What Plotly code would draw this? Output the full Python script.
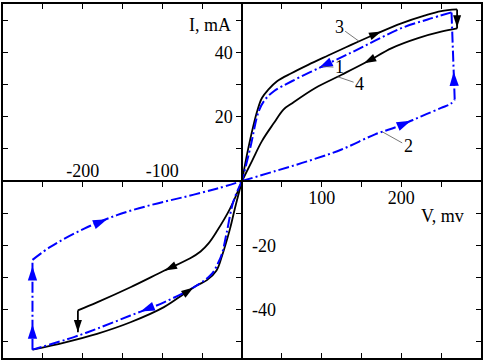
import math
import plotly.graph_objects as go

# ---------------- data ----------------
# Black solid loop (V in mV, I in mA)
BLK_LOWER_V = [-263, -223, -182, -140, -98, -73, -57, -44, -32, -25, -15, -9, 0]
BLK_LOWER_I = [-52.4, -50.2, -47.5, -43.9, -39.2, -35.1, -32.5, -30.8, -27.8, -23.2, -14.8, -8.6, 0]
BLK_3_V = [0, 8, 19, 25, 33, 44, 62, 83, 108, 137, 167, 200, 229, 250, 270]
BLK_3_I = [0, 10.3, 21.7, 25.8, 28.4, 31.0, 33.5, 36.1, 39.0, 42.3, 45.6, 49.0, 51.4, 52.8, 53.3]
BLK_4_V = [270, 250, 221, 188, 158, 125, 92, 62, 52, 40, 25, 12.5, 0]
BLK_4_I = [47.4, 46.4, 44.4, 41.3, 37.2, 33.0, 28.9, 24.0, 22.2, 18.0, 12.4, 6.2, 0]
BLK_INNER_V = [0, -15, -32, -42, -52, -65, -98, -140, -182, -206]
BLK_INNER_I = [0, -8.6, -15.8, -19.4, -21.9, -24.0, -27.9, -33.0, -37.7, -40.2]
BLK_DROP_END_I = -47.0          # end of the short vertical drop at V = -206

# Blue dash-dot loop
BLU_2_V = [0, 42, 83, 125, 167, 196, 225, 250, 262, 267]
BLU_2_I = [0, 3.1, 6.2, 9.8, 14.5, 17.0, 20.1, 22.7, 24.0, 25.3]
BLU_1_V = [263, 233, 200, 167, 138, 104, 62.5, 40, 29, 21, 10.4, 0]
BLU_1_I = [52.4, 50.2, 47.5, 43.6, 40.0, 36.0, 31.0, 27.9, 25.3, 21.7, 10.3, 0]
BLU_LOWER_V = [0, -11, -19, -25, -30, -38, -57, -98, -140, -182, -211, -263]
BLU_LOWER_I = [0, -6.5, -15.8, -22.5, -25.5, -28.9, -32.5, -37.7, -41.8, -45.9, -48.5, -52.4]
BLU_UPPER_V = [-263, -240, -198, -157, -115, -73, -32, 0]
BLU_UPPER_I = [-24.5, -20.4, -14.8, -10.6, -7.5, -5.0, -2.4, 0]

# direction arrows: (curve, segment index, fraction along segment)
BLK_ARROWS = [("lower", 5, 0.76), ("3", 10, 0.24), ("3", 14, 0.95),
              ("4", 4, 0.15), ("inner", 5, 0.97), ("inner", 9, 1.0)]
BLU_ARROWS = [("2", 5, 0.55), ("2", 9, 0.32), ("1", 5, 0.19),
              ("lower", 7, 0.7), ("lower", 11, 0.28), ("lower", 11, 0.93),
              ("upper", 2, 0.7)]

X_RANGE = [-300, 300]
Y_RANGE = [-55, 55]
X_TICKS = [-250, -200, -150, -100, -50, 50, 100, 150, 200, 250]
X_LABELS_BELOW = {100: "100", 200: "200"}
X_LABELS_ABOVE = [-200, -100]
Y_TICKS = [-50, -40, -30, -20, -10, 10, 20, 30, 40, 50]
Y_LABELS_LEFT = {20: "20", 40: "40"}
Y_LABELS_RIGHT = [-20, -40]

# ---------------- layout geometry ----------------
W, H = 485, 362
MARG = dict(l=3, r=4, t=2, b=4)
SX = (W - MARG["l"] - MARG["r"]) / (X_RANGE[1] - X_RANGE[0])
SY = (H - MARG["t"] - MARG["b"]) / (Y_RANGE[1] - Y_RANGE[0])
FONT = "Liberation Serif"
BLUE = "#0000ff"


def build(parts):
    xs, ys, off = [], [], {}
    for name, vx, vy in parts:
        off[name] = len(xs)
        xs += list(vx)
        ys += list(vy)
    return xs, ys, off


def arrows(xs, ys, off, specs):
    px, py, ang = [], [], []
    for name, i, t in specs:
        k = off[name] + i
        x0, y0, x1, y1 = xs[k], ys[k], xs[k + 1], ys[k + 1]
        px.append(x0 + t * (x1 - x0))
        py.append(y0 + t * (y1 - y0))
        th = math.degrees(math.atan2((y1 - y0) * SY, (x1 - x0) * SX))
        ang.append(90 - th)
    return px, py, ang


blk_parts = [("lower", BLK_LOWER_V, BLK_LOWER_I), ("3", BLK_3_V, BLK_3_I),
             ("4", BLK_4_V, BLK_4_I),
             ("inner", BLK_INNER_V + [BLK_INNER_V[-1]], BLK_INNER_I + [BLK_DROP_END_I])]
blu_parts = [("2", BLU_2_V, BLU_2_I), ("1", BLU_1_V, BLU_1_I),
             ("lower", BLU_LOWER_V, BLU_LOWER_I), ("upper", BLU_UPPER_V, BLU_UPPER_I)]
bx, by, boff = build(blk_parts)
ux, uy, uoff = build(blu_parts)

fig = go.Figure()
blk_line = dict(color="black", width=1.8)
blu_line = dict(color=BLUE, width=2, dash="11px,3px,2px,3px")


def add_path(parts, line):
    # smooth curves, straight connectors between consecutive curves
    prev = None
    for name, vx, vy in parts:
        if prev is not None:
            fig.add_trace(go.Scatter(x=[prev[0], vx[0]], y=[prev[1], vy[0]], mode="lines",
                                     line=line, showlegend=False, hoverinfo="skip"))
        fig.add_trace(go.Scatter(x=list(vx), y=list(vy), mode="lines",
                                 line=dict(line, shape="spline", smoothing=1.0),
                                 showlegend=False, hoverinfo="skip"))
        prev = (vx[-1], vy[-1])


add_path([("lower", BLK_LOWER_V, BLK_LOWER_I), ("3", BLK_3_V, BLK_3_I),
          ("4", BLK_4_V, BLK_4_I), ("inner", BLK_INNER_V, BLK_INNER_I),
          ("drop", [BLK_INNER_V[-1]], [BLK_DROP_END_I])], blk_line)
add_path(blu_parts, blu_line)

ax_, ay_, aa_ = arrows(bx, by, boff, BLK_ARROWS)
fig.add_trace(go.Scatter(x=ax_, y=ay_, mode="markers", cliponaxis=False,
                         marker=dict(symbol="arrow", size=13, angle=aa_, color="black"),
                         showlegend=False, hoverinfo="skip"))
ax_, ay_, aa_ = arrows(ux, uy, uoff, BLU_ARROWS)
fig.add_trace(go.Scatter(x=ax_, y=ay_, mode="markers", cliponaxis=False,
                         marker=dict(symbol="arrow", size=15, angle=aa_, color=BLUE),
                         showlegend=False, hoverinfo="skip"))

# empty traces so the centre axes are created
fig.add_trace(go.Scatter(x=[], y=[], xaxis="x2", yaxis="y2", showlegend=False))
fig.add_trace(go.Scatter(x=[], y=[], xaxis="x3", yaxis="y3", showlegend=False))

tickfont = dict(family=FONT, size=18, color="black")
frame = dict(showline=True, linecolor="black", linewidth=1.5, mirror="ticks",
             ticks="inside", ticklen=5, tickwidth=1, tickcolor="black",
             showticklabels=False, showgrid=False, zeroline=False)

fig.update_layout(
    width=W, height=H, margin=dict(**MARG, pad=0),
    paper_bgcolor="white", plot_bgcolor="white",
    xaxis=dict(range=X_RANGE, tick0=0, dtick=50, **frame),
    yaxis=dict(range=Y_RANGE, tick0=0, dtick=10, **frame),
    xaxis2=dict(range=X_RANGE, overlaying="x", anchor="free", position=0.5, side="bottom",
                showline=True, linecolor="black", linewidth=1.5, showgrid=False, zeroline=False,
                ticks="outside", ticklen=5, tickwidth=1, tickcolor="black",
                tickvals=X_TICKS, ticktext=[X_LABELS_BELOW.get(v, "") for v in X_TICKS],
                ticklabelstandoff=-4, tickfont=tickfont),
    xaxis3=dict(range=X_RANGE, overlaying="x", anchor="free", position=0.5, side="top",
                showline=False, showgrid=False, zeroline=False, ticks="",
                tickvals=X_LABELS_ABOVE, ticktext=[str(v) for v in X_LABELS_ABOVE],
                tickfont=tickfont),
    yaxis2=dict(range=Y_RANGE, overlaying="y", anchor="free", position=0.5, side="left",
                showline=True, linecolor="black", linewidth=1.5, showgrid=False, zeroline=False,
                ticks="outside", ticklen=5, tickwidth=1, tickcolor="black",
                tickvals=Y_TICKS, ticktext=[Y_LABELS_LEFT.get(v, "") for v in Y_TICKS],
                tickfont=tickfont),
    yaxis3=dict(range=Y_RANGE, overlaying="y", anchor="free", position=0.5, side="right",
                showline=False, showgrid=False, zeroline=False, ticks="",
                tickvals=Y_LABELS_RIGHT, ticktext=[str(v) for v in Y_LABELS_RIGHT],
                ticklabelstandoff=9, tickfont=tickfont),
)

lab_font = dict(family=FONT, size=18, color="black")
fig.add_annotation(x=-40, y=48.5, text="I, mA", showarrow=False, font=lab_font)
fig.add_annotation(x=252, y=-10.8, text="V, mv", showarrow=False, font=lab_font)

# curve labels with thin leader lines
for txt, x, y, dx, dy in [("3", 147, 43.4, -20, -14.5), ("1", 101, 35.6, 17, 1),
                          ("4", 120, 32.4, 22, 7.5), ("2", 176, 15.3, 26, 14.5)]:
    fig.add_annotation(x=x, y=y, text=txt, showarrow=True, ax=dx, ay=dy,
                       arrowhead=0, arrowwidth=0.8, arrowcolor="#555555", standoff=0,
                       font=lab_font)

fig.write_html("out.html")
